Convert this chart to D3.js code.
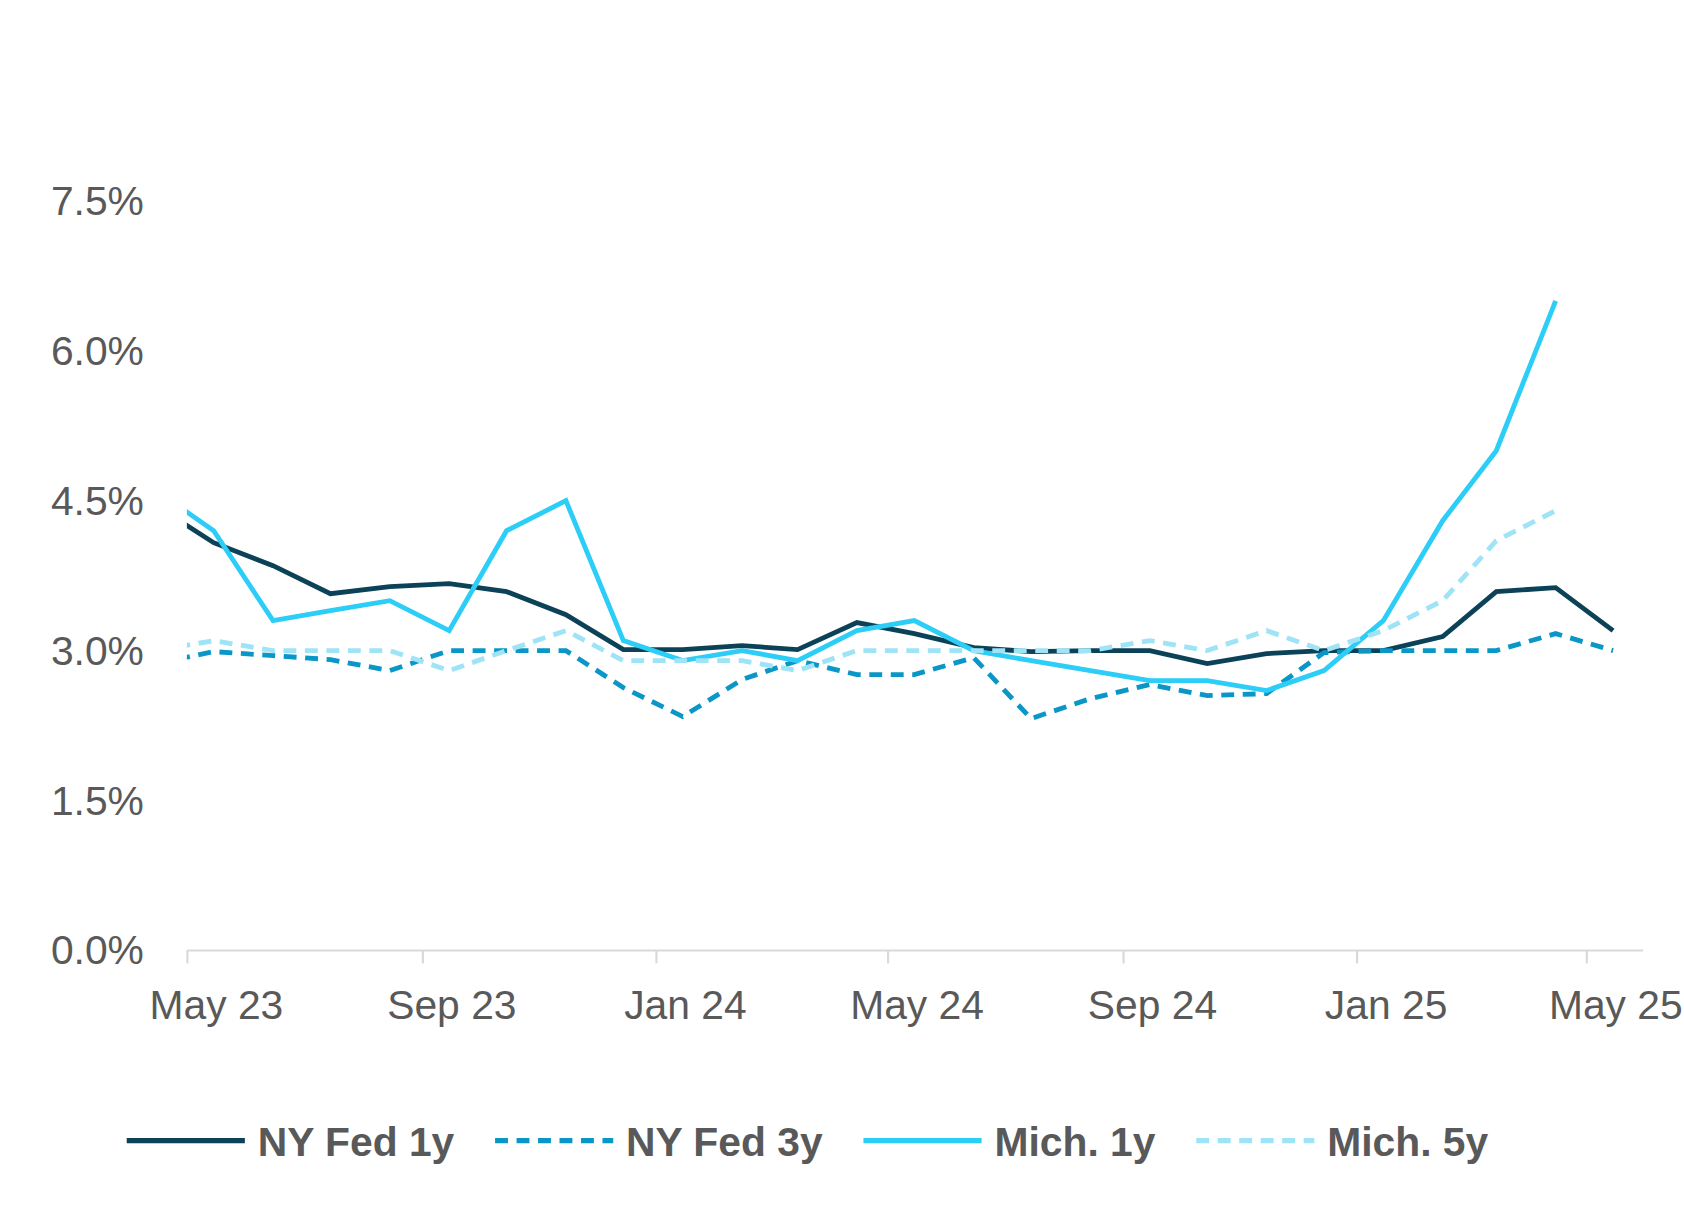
<!DOCTYPE html>
<html>
<head>
<meta charset="utf-8">
<script src="https://cdn.jsdelivr.net/npm/d3@7"></script>
<style>
  body { margin: 0; background: #fff; overflow: hidden; }
  text { font-family: "Liberation Sans", Arial, sans-serif; }
</style>
</head>
<body>
<div id="chart"></div>
<script>
// months from Apr 2023 (first point sits left of the axis and gets clipped)
let months = d3.timeMonths(new Date(2023, 3, 1), new Date(2025, 5, 1)).map(d => d3.timeFormat("%Y-%m")(d));

let nyFed1y = [4.45, 4.08, 3.85, 3.57, 3.64, 3.67, 3.59, 3.36, 3.01, 3.01, 3.05, 3.01, 3.28, 3.17, 3.03, 2.99, 3.0, 3.0, 2.87, 2.97, 3.0, 3.0, 3.14, 3.59, 3.63, 3.2];
let nyFed3y = [2.87, 2.99, 2.95, 2.91, 2.8, 3.0, 3.0, 3.0, 2.63, 2.34, 2.71, 2.9, 2.76, 2.76, 2.93, 2.32, 2.52, 2.66, 2.55, 2.57, 2.98, 3.0, 3.0, 3.0, 3.17, 3.0];
let mich1y = [4.6, 4.2, 3.3, 3.4, 3.5, 3.2, 4.2, 4.5, 3.1, 2.9, 3.0, 2.9, 3.2, 3.3, 3.0, 2.9, 2.8, 2.7, 2.7, 2.6, 2.8, 3.3, 4.3, 5.0, 6.5];
let mich5y = [3.0, 3.1, 3.0, 3.0, 3.0, 2.8, 3.0, 3.2, 2.9, 2.9, 2.9, 2.8, 3.0, 3.0, 3.0, 3.0, 3.0, 3.1, 3.0, 3.2, 3.0, 3.2, 3.5, 4.1, 4.4];

let seriesNames = ["NY Fed 1y", "NY Fed 3y", "Mich. 1y", "Mich. 5y"];
let seriesValues = [nyFed1y, nyFed3y, mich1y, mich5y];
let seriesColors = ["#0b4257", "#0a96c6", "#2ccdf6", "#9fe3f7"];
let seriesDash = [null, "12,8", null, "12,8"];
let yTicks = [0, 1.5, 3.0, 4.5, 6.0, 7.5];

let width = 1684, height = 1208;
let k = 1684 / 1568;
let svg = d3.select("#chart").append("svg").attr("width", width).attr("height", height)
  .append("g").attr("transform", "scale(" + k + ")");

let x = d3.scaleTime()
  .domain([new Date(2023, 4, 1), new Date(2025, 4, 1)])
  .range([174, 1477]);
let y = d3.scaleLinear().domain([0, 7.5]).range([885, 187]);
let parse = d3.timeParse("%Y-%m");
let mid = m => d3.timeDay.offset(parse(m), 14);

svg.append("clipPath").attr("id", "clip")
  .append("rect").attr("x", 174).attr("y", 0).attr("width", 1500).attr("height", height);

// y labels
svg.append("g").selectAll("text").data(yTicks).enter().append("text")
  .attr("x", 134).attr("y", d => y(d) + 13)
  .attr("text-anchor", "end").attr("font-size", 38).attr("fill", "#595959")
  .text(d => d.toFixed(1) + "%");

// x axis
let xAxis = svg.append("g")
  .attr("transform", "translate(0,885)")
  .call(d3.axisBottom(x).ticks(d3.timeMonth.every(4)).tickSize(12).tickFormat(d3.timeFormat("%b %y")));
xAxis.select(".domain").attr("d", "M174,0H1530").attr("stroke", "#d9d9d9").attr("stroke-width", 2);
xAxis.selectAll(".tick line").attr("stroke", "#d9d9d9").attr("stroke-width", 2);
xAxis.selectAll(".tick text")
  .attr("dx", 27).attr("dy", 0).attr("y", 64)
  .attr("font-size", 38).attr("fill", "#595959")
  .style("font-family", "'Liberation Sans', Arial, sans-serif");

let line = d3.line().x(d => x(mid(d.m))).y(d => y(d.v));

seriesValues.forEach((vals, i) => {
  svg.append("path")
    .datum(vals.map((v, j) => ({ m: months[j], v: v })))
    .attr("clip-path", "url(#clip)")
    .attr("d", line)
    .attr("fill", "none")
    .attr("stroke", seriesColors[i])
    .attr("stroke-width", 4.5)
    .attr("stroke-dasharray", seriesDash[i]);
});

// legend
let legend = svg.append("g");
let lx = 118;
seriesNames.forEach((name, i) => {
  legend.append("line")
    .attr("x1", lx).attr("x2", lx + 110).attr("y1", 1062).attr("y2", 1062)
    .attr("stroke", seriesColors[i]).attr("stroke-width", 5)
    .attr("stroke-dasharray", seriesDash[i]);
  let t = legend.append("text")
    .attr("x", lx + 122).attr("y", 1076)
    .attr("font-size", 38).attr("font-weight", "bold").attr("fill", "#595959")
    .text(name);
  lx += 122 + t.node().getComputedTextLength() + 38;
});
</script>
</body>
</html>
